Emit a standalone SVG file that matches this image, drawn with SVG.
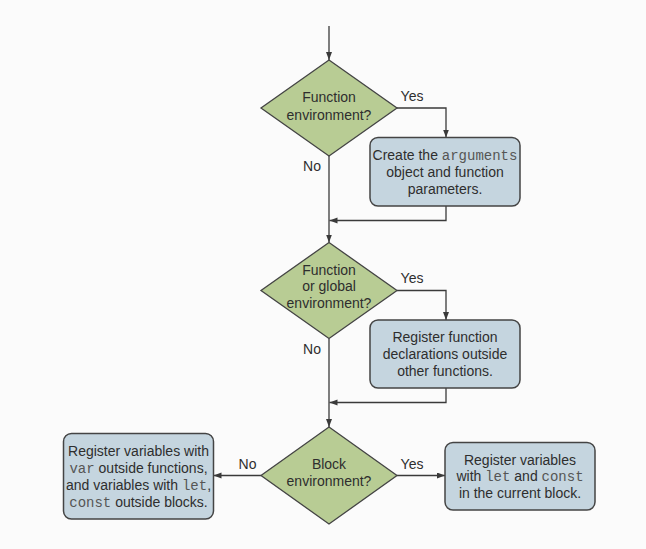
<svg xmlns="http://www.w3.org/2000/svg" width="646" height="549" viewBox="0 0 646 549">
<style>
  .bg{fill:#fbfbfb}
  .dia{fill:#b8cc94;stroke:#444;stroke-width:1.3}
  .box{fill:#c5d5df;stroke:#444;stroke-width:1.5}
  .t{font-family:"Liberation Sans",Arial,sans-serif;font-size:14px;fill:#2e2e2e;text-anchor:middle}
  .m{font-family:"Liberation Mono","Courier New",monospace;fill:#555}
  .c{fill:none;stroke:#3a3a3a;stroke-width:1.3}
</style>
<defs>
  <marker id="ah" markerUnits="userSpaceOnUse" markerWidth="9" markerHeight="7" refX="8" refY="3" orient="auto">
    <path d="M0,0 L8,3 L0,6 z" fill="#3a3a3a"/>
  </marker>
</defs>
<rect class="bg" x="0" y="0" width="646" height="549"/>
<g id="connectors">
  <path class="c" d="M329,26 V60" marker-end="url(#ah)"/>
  <path class="c" d="M397,108 H446 V137.5" marker-end="url(#ah)"/>
  <path class="c" d="M446,206 V220.5 H329.5" marker-end="url(#ah)"/>
  <path class="c" d="M329,156 V242.5" marker-end="url(#ah)"/>
  <path class="c" d="M397,290.5 H446 V320" marker-end="url(#ah)"/>
  <path class="c" d="M446,388 V402.5 H329.5" marker-end="url(#ah)"/>
  <path class="c" d="M329,338.5 V427" marker-end="url(#ah)"/>
  <path class="c" d="M261,475.5 H213.5" marker-end="url(#ah)"/>
  <path class="c" d="M397,475.5 H445" marker-end="url(#ah)"/>
  <text class="t" x="412" y="100.5">Yes</text>
  <text class="t" x="312" y="171">No</text>
  <text class="t" x="412" y="282.5">Yes</text>
  <text class="t" x="312" y="353.5">No</text>
  <text class="t" x="247.5" y="468.5">No</text>
  <text class="t" x="412" y="468.5">Yes</text>
</g>
<g id="d1">
  <polygon class="dia" points="329,60 397,108 329,156 261,108"/>
  <text class="t" x="329" y="102">Function</text>
  <text class="t" x="329" y="119.5">environment?</text>
</g>
<g id="b1">
  <rect class="box" x="370" y="137.5" width="150" height="68.5" rx="8"/>
  <text class="t" x="445" y="159.5">Create the <tspan class="m">arguments</tspan></text>
  <text class="t" x="445" y="176.5">object and function</text>
  <text class="t" x="445" y="193.5">parameters.</text>
</g>
<g id="d2">
  <polygon class="dia" points="329,242.5 397,290.5 329,338.5 261,290.5"/>
  <text class="t" x="329" y="274.5">Function</text>
  <text class="t" x="329" y="291">or global</text>
  <text class="t" x="329" y="307.5">environment?</text>
</g>
<g id="b2">
  <rect class="box" x="370" y="320" width="150" height="68" rx="8"/>
  <text class="t" x="445" y="342">Register function</text>
  <text class="t" x="445" y="359">declarations outside</text>
  <text class="t" x="445" y="376">other functions.</text>
</g>
<g id="d3">
  <polygon class="dia" points="329,427 397,475.5 329,524 261,475.5"/>
  <text class="t" x="329" y="469">Block</text>
  <text class="t" x="329" y="486">environment?</text>
</g>
<g id="b3">
  <rect class="box" x="63.5" y="433.5" width="150" height="85.5" rx="8"/>
  <text class="t" x="138.5" y="456">Register variables with</text>
  <text class="t" x="138.5" y="473"><tspan class="m">var</tspan> outside functions,</text>
  <text class="t" x="138.5" y="490">and variables with <tspan class="m">let</tspan>,</text>
  <text class="t" x="138.5" y="506.5"><tspan class="m">const</tspan> outside blocks.</text>
</g>
<g id="b4">
  <rect class="box" x="445" y="442.5" width="150" height="67.5" rx="8"/>
  <text class="t" x="520" y="464.5">Register variables</text>
  <text class="t" x="520" y="481">with <tspan class="m">let</tspan> and <tspan class="m">const</tspan></text>
  <text class="t" x="520" y="497.5">in the current block.</text>
</g>
</svg>
